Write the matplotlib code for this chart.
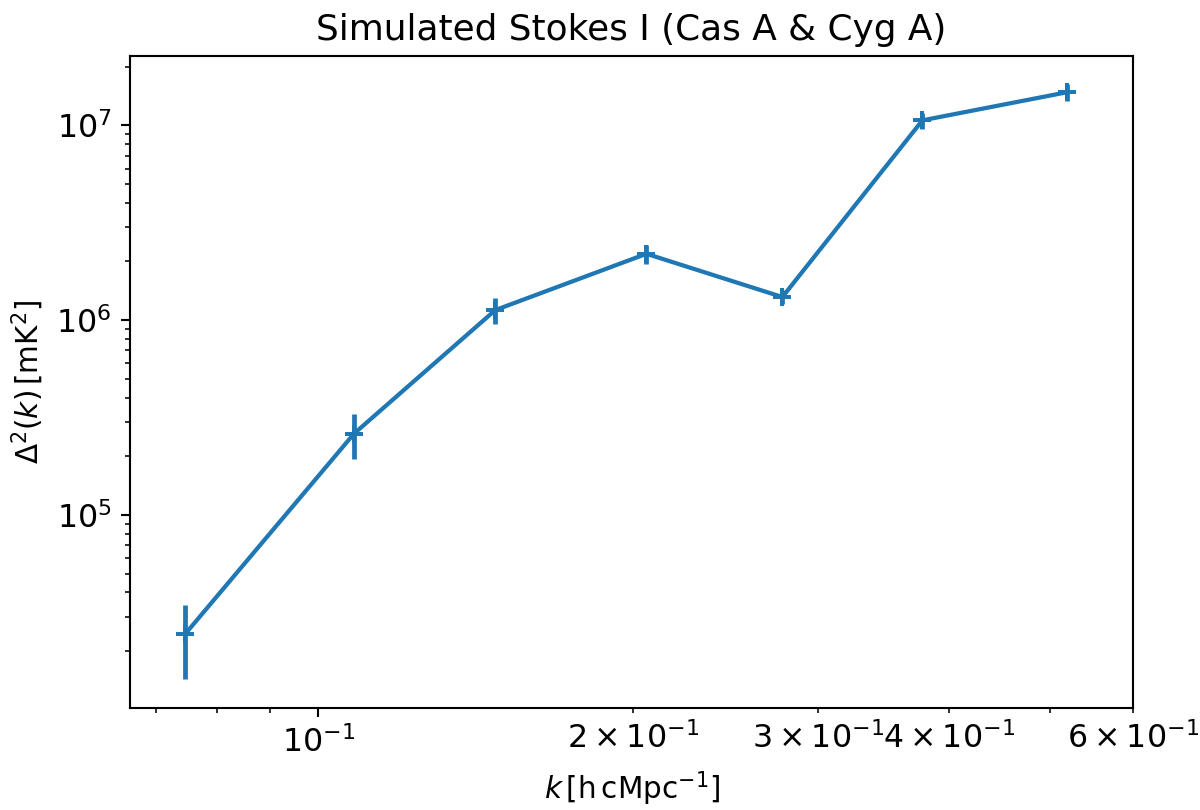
import matplotlib
matplotlib.use("Agg")
import matplotlib.pyplot as plt

k_vals = [0.0746, 0.1082, 0.1476, 0.2058, 0.2775, 0.3776, 0.519]
delta2 = [2.44e4, 2.615e5, 1.126e6, 2.19e6, 1.314e6, 1.061e7, 1.479e7]
delta2_err = [1.0e4, 6.7e4, 1.75e5, 2.4e5, 1.1e5, 1.0e6, 1.5e6]

title = "Simulated Stokes I (Cas A & Cyg A)"
xlabel = r"$k\,[\mathrm{h\,cMpc^{-1}}]$"
ylabel = r"$\Delta^2(k)\,[\mathrm{mK}^2]$"

fig = plt.figure(figsize=(1200 / 190, 810 / 190), dpi=190)
ax = fig.add_axes([130 / 1200, 1 - 708 / 810, (1133 - 130) / 1200, (708 - 56) / 810])
ax.errorbar(k_vals, delta2, yerr=delta2_err, fmt="+-", color="C0", lw=1.6,
            elinewidth=1.8, ms=7, mew=1.5)
ax.set_xscale("log")
ax.set_yscale("log")
ax.set_xlim(0.0661, 0.6)
ax.set_ylim(1.02e4, 2.27e7)
ax.set_title(title, fontsize=13.6)
ax.set_xlabel(xlabel, fontsize=11.2)
ax.set_ylabel(ylabel, fontsize=11.2)
ax.tick_params(which="both", labelsize=12)
fig.savefig("out.png", dpi=190)
